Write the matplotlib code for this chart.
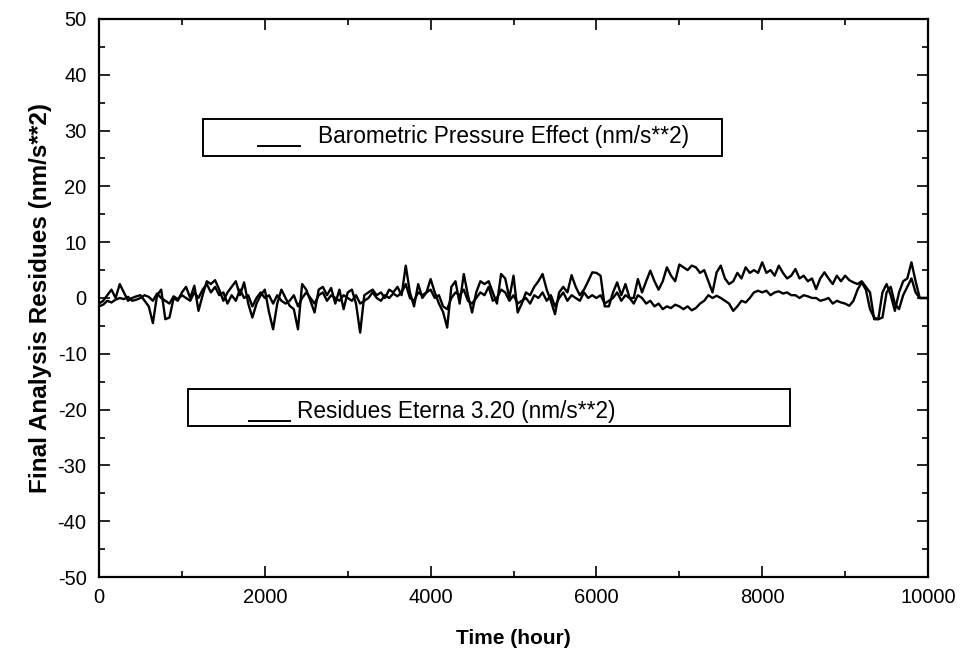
import numpy as np
import matplotlib.pyplot as plt
from matplotlib.patches import Rectangle
from matplotlib.ticker import MultipleLocator

plt.rcParams["font.family"] = ["Liberation Sans", "DejaVu Sans"]
plt.rcParams["axes.unicode_minus"] = False

# time axis, one reading every 50 hours
hours = np.arange(0, 10001, 50)

# residues (more jagged trace)
residues = [
    -1.0, -0.5, 0.5, 1.5, 0.0, 2.5, 1.0, -0.5, 0.0, 0.3, 0.5, -0.5, -1.5, -4.5, 0.5, 1.5, -3.8, -3.5, 0.0, -0.5,
    1.0, 2.0, 0.0, 2.2, -2.3, 0.5, 3.0, 2.5, 3.2, 1.5, -0.5, 1.0, 2.0, 3.0, 0.5, 2.8, -1.0, -3.5, -1.0, 0.5,
    1.5, -2.5, -5.6, -1.0, 1.5, 0.0, -1.4, -2.0, -5.6, 2.5, 1.5, -0.5, -2.6, 1.5, 2.0, 0.5, 1.8, -1.0, 1.5, -2.0,
    1.0, 1.5, -1.0, -6.2, 0.5, 1.0, 1.5, 0.5, 1.0, 0.0, 1.5, 1.0, 2.0, 0.5, 5.8, 1.0, -1.5, 2.5, 0.0, 1.0,
    3.4, 1.0, -1.0, -2.5, -5.3, 2.0, 3.0, -1.0, 4.3, 0.5, -2.6, 1.0, 3.0, 2.5, 3.0, 1.0, -1.0, 4.3, 3.5, 0.0,
    4.0, -2.6, -1.0, 1.0, 0.5, 2.0, 3.0, 4.3, 1.5, -0.5, -2.9, 1.0, 2.0, 1.0, 4.1, 2.0, 0.5, 1.5, 3.0, 4.6,
    4.5, 4.0, -1.5, -1.5, 1.0, 2.8, 0.5, 2.5, 0.0, 0.0, 3.4, 1.0, 3.0, 4.9, 3.0, 1.5, 3.0, 5.5, 4.0, 3.0,
    6.0, 5.5, 5.0, 5.8, 5.5, 4.5, 5.0, 3.0, 1.0, 4.6, 5.8, 3.5, 2.5, 3.0, 4.5, 3.5, 5.5, 4.5, 5.0, 4.5,
    6.4, 4.5, 5.0, 4.0, 5.8, 4.5, 3.5, 4.0, 5.2, 3.5, 4.0, 3.0, 3.5, 1.6, 3.5, 4.6, 3.5, 2.5, 4.0, 3.0,
    4.0, 3.2, 2.8, 2.5, 3.0, 2.0, 1.0, -3.8, -3.8, 1.0, 2.5, 0.5, -2.3, 1.0, 3.0, 3.5, 6.4, 3.0, 0.0, 0.0,
    0.0,
]

# barometric pressure effect (smoother trace)
pressure = [
    -1.5, -1.2, -0.5, -0.8, -0.3, 0.0, -0.2, 0.2, -0.5, -0.3, 0.0, 0.5, 0.2, -0.5, 0.8, 0.0, -0.5, -1.0, 0.3, -0.2,
    0.5, 0.0, -0.5, 1.0, 0.0, 1.5, 2.5, 1.0, 2.0, 0.5, 1.0, -1.0, 0.5, -0.5, 1.5, 0.0, 0.5, -1.5, 0.0, 1.0,
    0.0, 0.5, -1.0, 0.5, -0.5, -1.0, -0.5, 0.5, -1.5, 0.0, 1.0, 0.0, -1.0, 0.5, 1.0, -0.5, 0.5, 0.0, -0.5, 0.5,
    0.0, -0.5, 0.5, -1.0, -0.5, 0.0, 1.0, 0.0, -0.5, 0.5, 0.0, 0.8, 0.3, 1.0, 2.5, 0.0, -0.5, 1.0, 0.5, 1.0,
    1.5, 0.0, 0.5, -1.5, -2.0, 0.0, 1.0, 0.5, 1.5, -0.5, -1.0, 0.0, 1.0, 0.5, 2.0, -0.5, 0.0, 1.5, 1.0, -0.5,
    0.5, -1.0, -0.5, 0.0, -1.0, 0.5, 0.0, 1.0, -0.5, 0.5, -1.5, 0.0, 1.0, -0.5, 0.5, 0.0, -0.5, 1.0, 0.0, 0.5,
    0.0, 0.5, -1.0, -0.5, 0.0, 1.0, -0.5, 0.5, 0.0, -1.0, 0.5, 0.0, -1.0, -0.5, -1.5, -1.0, -2.0, -1.5, -1.8, -1.2,
    -1.5, -2.0, -1.5, -2.2, -1.8, -1.0, -0.5, 0.5, 0.0, 0.4, 0.0, -0.5, -1.0, -2.3, -1.5, -0.5, -0.8, 0.0, 1.0, 1.3,
    1.0, 1.3, 0.5, 1.0, 1.2, 0.8, 1.0, 0.5, 0.5, 0.0, 0.5, 0.3, 0.0, 0.0, -0.5, -0.3, 0.0, -1.0, -0.5, -0.8,
    -1.0, -1.4, -0.5, 1.5, 2.8, 1.5, -2.0, -3.5, -3.8, -3.5, 1.0, 2.0, -1.0, -2.0, 0.5, 2.0, 3.5, 1.0, 0.0, 0.0,
    0.0,
]

label_pressure = "Barometric Pressure Effect (nm/s**2)"
label_residues = "Residues Eterna 3.20 (nm/s**2)"

fig = plt.figure(figsize=(9.65, 6.59), dpi=100)
ax = fig.add_axes([0.1026, 0.1244, 0.8591, 0.8468])

ax.plot(hours, residues, color="black", lw=1.7)
ax.plot(hours, pressure, color="black", lw=1.7)

ax.set_xlim(0, 10000)
ax.set_ylim(-50, 50)
ax.xaxis.set_major_locator(MultipleLocator(2000))
ax.xaxis.set_minor_locator(MultipleLocator(1000))
ax.yaxis.set_major_locator(MultipleLocator(10))
ax.yaxis.set_minor_locator(MultipleLocator(5))
ax.tick_params(which="both", direction="in", top=True, right=True, labelsize=14.5, width=1.2)
ax.tick_params(which="major", length=8)
ax.tick_params(axis="x", which="major", pad=8)
ax.tick_params(axis="y", which="major", pad=9)
ax.tick_params(which="minor", length=4)
for s in ax.spines.values():
    s.set_linewidth(1.6)

ax.set_xlabel("Time (hour)", fontsize=15, fontweight="bold", labelpad=16)
ax.set_ylabel("Final Analysis Residues (nm/s**2)", fontsize=17.5, fontweight="bold", labelpad=4)

# the two label boxes drawn inside the plot, each with a short line sample
ax.add_patch(Rectangle((1254, 25.4), 6261, 6.7, fill=False, ec="black", lw=1.4))
ax.plot([1918, 2425], [27.2, 27.2], color="black", lw=1.4)
ax.text(2645, 28.9, label_pressure, fontsize=16.3, va="center", ha="left")
ax.add_patch(Rectangle((1073, -22.9), 7262, 6.6, fill=False, ec="black", lw=1.4))
ax.plot([1809, 2304], [-22.0, -22.0], color="black", lw=1.4)
ax.text(2388, -20.4, label_residues, fontsize=16.3, va="center", ha="left")

fig.savefig("out.png", dpi=100)
